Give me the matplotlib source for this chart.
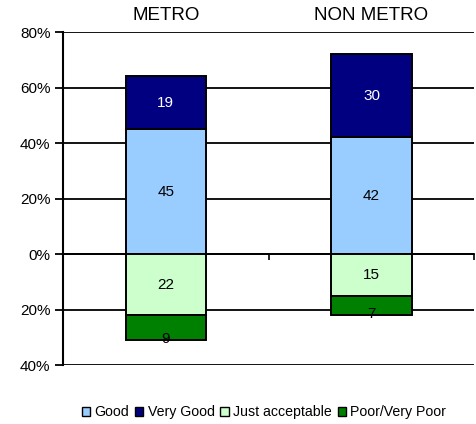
import numpy as np
import matplotlib
matplotlib.use("Agg")
import matplotlib.pyplot as plt
from matplotlib.patches import Rectangle

plt.rcParams['font.family'] = ['Liberation Sans', 'DejaVu Sans']

# survey data (percent)
groups = ['METRO', 'NON METRO']
good = [45, 42]
very_good = [19, 30]
just_acceptable = [22, 15]
poor = [9, 7]

yticks = [80, 60, 40, 20, 0, -20, -40]
ytick_labels = ['80%', '60%', '40%', '20%', '0%', '20%', '40%']

c_good = '#99CCFF'
c_vgood = '#000080'
c_just = '#CCFFCC'
c_poor = '#008000'

fig = plt.figure(figsize=(4.76, 4.24), dpi=100)
ax = fig.add_axes([0.1324, 0.139, 0.864, 0.7855])

x = np.arange(len(groups))
w = 0.39
ja = np.array(just_acceptable)
kw = dict(width=w, edgecolor='black', linewidth=1.4, zorder=3)

ax.bar(x, good, color=c_good, **kw)
ax.bar(x, very_good, bottom=good, color=c_vgood, **kw)
ax.bar(x, -ja, color=c_just, **kw)
ax.bar(x, -np.array(poor), bottom=-ja, color=c_poor, **kw)

# value labels
fs = 11
for i in range(len(groups)):
    ax.text(x[i], good[i] / 2, str(good[i]), ha='center', va='center', fontsize=fs, zorder=4)
    ax.text(x[i], good[i] + very_good[i] / 2, str(very_good[i]), ha='center', va='center',
            fontsize=fs, color='white', zorder=4)
    ax.text(x[i], -just_acceptable[i] / 2, str(just_acceptable[i]), ha='center', va='center',
            fontsize=fs, zorder=4)
    ax.text(x[i], -just_acceptable[i] - poor[i] + 0.3, str(poor[i]), ha='center', va='center',
            fontsize=fs, zorder=4)
    ax.text(x[i], 83, groups[i], ha='center', va='bottom', fontsize=13.5)

ax.set_xlim(-0.5, 1.5)
ax.set_ylim(-40, 80)
ax.set_yticks(yticks)
ax.set_yticklabels(ytick_labels, fontsize=11)
ax.yaxis.grid(True, color='black', linewidth=1.3, zorder=1)
ax.set_axisbelow(True)

for s in ['top', 'right']:
    ax.spines[s].set_visible(False)
ax.spines['left'].set_linewidth(1.5)
ax.spines['bottom'].set_position(('data', 0))
ax.spines['bottom'].set_linewidth(1.3)
ax.set_xticks([0.5, 1.5])
ax.set_xticklabels([])
ax.tick_params(axis='x', direction='out', length=4, width=1.2)
ax.tick_params(axis='y', length=6, width=1.3, pad=3)

handles = [Rectangle((0, 0), 1, 1, facecolor=c, edgecolor='black', linewidth=1)
           for c in [c_good, c_vgood, c_just, c_poor]]
fig.legend(handles, ['Good', 'Very Good', 'Just acceptable', 'Poor/Very Poor'],
           loc='center left', bbox_to_anchor=(0.16, 0.028), ncol=4, frameon=False,
           fontsize=10.2, handlelength=0.6, handleheight=0.6, handletextpad=0.3,
           columnspacing=0.4, borderaxespad=0)

fig.savefig('out.png', dpi=100)
